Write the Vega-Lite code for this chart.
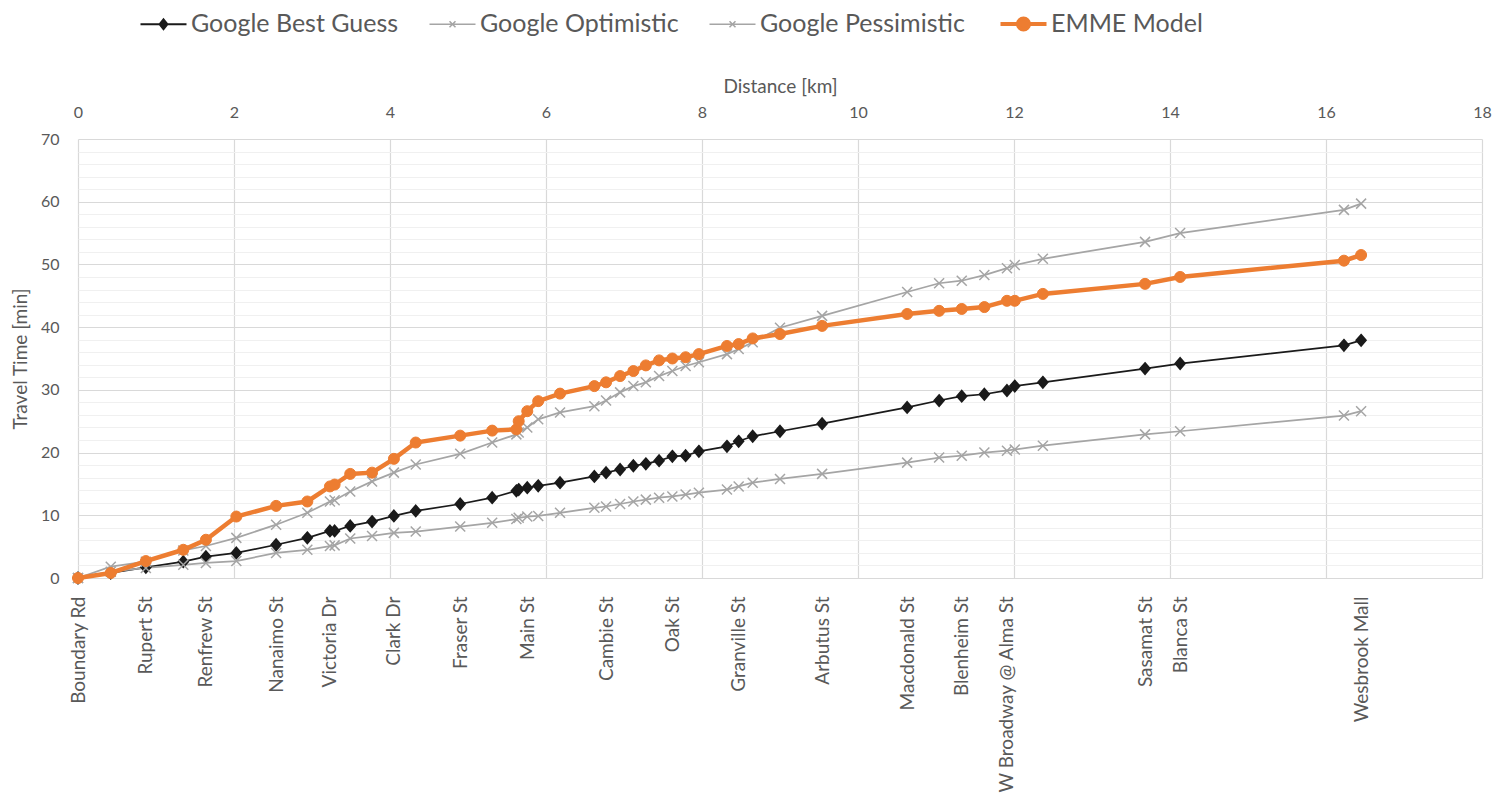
{
  "$schema": "https://vega.github.io/schema/vega-lite/v6.json",
  "autosize": {"type": "none"},
  "padding": {"left": 78, "top": 139, "right": 27, "bottom": 232},
  "width": 1404,
  "height": 439,
  "config": {
    "view": {"stroke": null},
    "font": "Lato",
    "axis": {"labelFont": "Lato", "titleFont": "Lato", "labelColor": "#595959", "titleColor": "#595959", "titleFontWeight": "normal"},
    "legend": {"labelFont": "Lato"}
  },
  "data": {
    "values": [
      {"km": 0, "best": 0, "opt": 0, "pess": 0, "emme": 0},
      {"km": 0.42, "best": 0.8, "opt": 1.0, "pess": 1.8, "emme": 0.8},
      {"km": 0.87, "best": 1.7, "opt": 1.6, "pess": 2.6, "emme": 2.7},
      {"km": 1.35, "best": 2.6, "opt": 2.1, "pess": 4.4, "emme": 4.5},
      {"km": 1.64, "best": 3.4, "opt": 2.4, "pess": 5.1, "emme": 6.1},
      {"km": 2.03, "best": 4.0, "opt": 2.7, "pess": 6.4, "emme": 9.8},
      {"km": 2.54, "best": 5.3, "opt": 4.0, "pess": 8.5, "emme": 11.5},
      {"km": 2.94, "best": 6.4, "opt": 4.5, "pess": 10.4, "emme": 12.2},
      {"km": 3.23, "best": 7.5, "opt": 5.1, "pess": 12.2, "emme": 14.6},
      {"km": 3.29, "best": 7.5, "opt": 5.2, "pess": 12.4, "emme": 14.9},
      {"km": 3.49, "best": 8.3, "opt": 6.3, "pess": 13.8, "emme": 16.6},
      {"km": 3.77, "best": 9.0, "opt": 6.7, "pess": 15.4, "emme": 16.8},
      {"km": 4.05, "best": 9.9, "opt": 7.2, "pess": 16.8, "emme": 19.0},
      {"km": 4.33, "best": 10.7, "opt": 7.4, "pess": 18.1, "emme": 21.6},
      {"km": 4.9, "best": 11.8, "opt": 8.2, "pess": 19.8, "emme": 22.7},
      {"km": 5.31, "best": 12.8, "opt": 8.8, "pess": 21.6, "emme": 23.5},
      {"km": 5.62, "best": 13.9, "opt": 9.4, "pess": 22.9, "emme": 23.7},
      {"km": 5.65, "best": 14.1, "opt": 9.6, "pess": 23.2, "emme": 25.0},
      {"km": 5.76, "best": 14.4, "opt": 9.8, "pess": 24.0, "emme": 26.6},
      {"km": 5.9, "best": 14.7, "opt": 9.9, "pess": 25.3, "emme": 28.2},
      {"km": 6.18, "best": 15.2, "opt": 10.4, "pess": 26.4, "emme": 29.4},
      {"km": 6.62, "best": 16.2, "opt": 11.2, "pess": 27.4, "emme": 30.6},
      {"km": 6.77, "best": 16.8, "opt": 11.4, "pess": 28.3, "emme": 31.2},
      {"km": 6.95, "best": 17.3, "opt": 11.8, "pess": 29.6, "emme": 32.2},
      {"km": 7.12, "best": 17.9, "opt": 12.2, "pess": 30.6, "emme": 33.0},
      {"km": 7.28, "best": 18.2, "opt": 12.5, "pess": 31.2, "emme": 33.9},
      {"km": 7.45, "best": 18.7, "opt": 12.8, "pess": 32.2, "emme": 34.7},
      {"km": 7.62, "best": 19.4, "opt": 13.0, "pess": 33.0, "emme": 35.0},
      {"km": 7.79, "best": 19.5, "opt": 13.3, "pess": 33.8, "emme": 35.2},
      {"km": 7.96, "best": 20.2, "opt": 13.6, "pess": 34.4, "emme": 35.7},
      {"km": 8.32, "best": 21.0, "opt": 14.1, "pess": 35.7, "emme": 37.0},
      {"km": 8.47, "best": 21.8, "opt": 14.6, "pess": 36.5, "emme": 37.3},
      {"km": 8.65, "best": 22.6, "opt": 15.2, "pess": 37.6, "emme": 38.2},
      {"km": 9.0, "best": 23.4, "opt": 15.8, "pess": 39.9, "emme": 38.9},
      {"km": 9.54, "best": 24.6, "opt": 16.6, "pess": 41.8, "emme": 40.2},
      {"km": 10.63, "best": 27.2, "opt": 18.4, "pess": 45.6, "emme": 42.1},
      {"km": 11.04, "best": 28.3, "opt": 19.2, "pess": 47.0, "emme": 42.6},
      {"km": 11.33, "best": 29.0, "opt": 19.5, "pess": 47.4, "emme": 42.9},
      {"km": 11.62, "best": 29.3, "opt": 20.0, "pess": 48.3, "emme": 43.2},
      {"km": 11.91, "best": 29.9, "opt": 20.3, "pess": 49.4, "emme": 44.2},
      {"km": 12.01, "best": 30.6, "opt": 20.5, "pess": 49.9, "emme": 44.2},
      {"km": 12.37, "best": 31.2, "opt": 21.1, "pess": 50.9, "emme": 45.3},
      {"km": 13.68, "best": 33.4, "opt": 22.9, "pess": 53.6, "emme": 46.9},
      {"km": 14.13, "best": 34.2, "opt": 23.4, "pess": 55.0, "emme": 48.0},
      {"km": 16.23, "best": 37.1, "opt": 25.9, "pess": 58.7, "emme": 50.6},
      {"km": 16.45, "best": 37.9, "opt": 26.6, "pess": 59.7, "emme": 51.5}
    ]
  },
  "transform": [{"fold": ["best", "opt", "pess", "emme"], "as": ["series", "t"]}],
  "encoding": {
    "y": {
      "field": "t", "type": "quantitative",
      "scale": {"domain": [0, 70], "nice": false},
      "axis": {
        "title": "Travel Time [min]", "titleFontSize": 19, "titlePadding": 10,
        "values": [0,2,4,6,8,10,12,14,16,18,20,22,24,26,28,30,32,34,36,38,40,42,44,46,48,50,52,54,56,58,60,62,64,66,68,70],
        "labelExpr": "datum.value % 10 == 0 ? datum.label : ''",
        "labelFontSize": 16, "labelPadding": 19, "ticks": false, "tickSize": 0, "domain": false,
        "grid": true,
        "gridColor": {"condition": {"test": "datum.value % 10 == 0", "value": "#D9D9D9"}, "value": "#F0F0F0"},
        "gridWidth": 1.2
      }
    }
  },
  "resolve": {"axis": {"x": "independent"}},
  "layer": [
    {
      "transform": [{"filter": "datum.series != 'emme'"}],
      "mark": {"type": "line", "strokeWidth": 1.75},
      "encoding": {
        "x": {
          "field": "km", "type": "quantitative",
          "scale": {"domain": [0, 18], "nice": false},
          "axis": {
            "orient": "top", "title": "Distance [km]", "titleFontSize": 19, "titlePadding": 8,
            "values": [0,2,4,6,8,10,12,14,16,18], "labelFontSize": 16, "labelPadding": 19,
            "labelFlush": false, "ticks": false, "tickSize": 0, "domain": false,
            "grid": true, "gridColor": "#D9D9D9", "gridWidth": 1.2
          }
        },
        "stroke": {
          "field": "series", "type": "nominal",
          "scale": {"domain": ["best", "opt", "pess", "emme"], "range": ["#1a1a1a", "#A5A5A5", "#A5A5A5", "#ED7D31"]},
          "legend": {
            "orient": "none", "legendX": 73, "legendY": -128, "direction": "horizontal", "padding": 0,
            "title": null, "labelFontSize": 25, "labelColor": "#595959", "labelOffset": 15, "columnPadding": 27,
            "symbolSize": 2116, "labelLimit": 400,
            "labelExpr": "datum.value == 'best' ? 'Google Best Guess' : datum.value == 'opt' ? 'Google Optimistic' : datum.value == 'pess' ? 'Google Pessimistic' : 'EMME Model'",
            "encode": {
              "symbols": {
                "update": {
                  "shape": {"signal": "datum.value == 'best' ? 'M-1,0L1,0M0,-0.21L0.17,0L0,0.21L-0.17,0Z' : datum.value == 'emme' ? 'M-1,0L1,0M-0.24,0A0.24,0.24 0 1,0 0.24,0A0.24,0.24 0 1,0 -0.24,0Z' : 'M-1,0L1,0M-0.13,-0.13L0.13,0.13M-0.13,0.13L0.13,-0.13'"},
                  "fill": {"signal": "scale('stroke', datum.value)"},
                  "stroke": {"signal": "scale('stroke', datum.value)"},
                  "strokeWidth": {"signal": "datum.value == 'emme' ? 4 : datum.value == 'best' ? 2 : 1.5"},
                  "opacity": {"value": 1}
                }
              }
            }
          }
        }
      }
    },
    {
      "transform": [{"filter": "datum.series != 'emme'"}],
      "mark": {"type": "point", "filled": true, "opacity": 1, "strokeWidth": 1.5},
      "encoding": {
        "x": {"field": "km", "type": "quantitative", "axis": null},
        "shape": {
          "field": "series", "type": "nominal", "legend": null,
          "scale": {"domain": ["best", "opt", "pess"], "range": ["M0,-1.15L1,0L0,1.15L-1,0Z", "M-1,-1L1,1M-1,1L1,-1", "M-1,-1L1,1M-1,1L1,-1"]}
        },
        "size": {"value": 100},
        "fill": {"field": "series", "type": "nominal", "legend": null, "scale": {"domain": ["best", "opt", "pess"], "range": ["#1a1a1a", "#A5A5A5", "#A5A5A5"]}},
        "stroke": {"field": "series", "type": "nominal"}
      }
    },
    {
      "transform": [{"filter": "datum.series == 'emme'"}],
      "mark": {"type": "line", "strokeWidth": 4.5},
      "encoding": {
        "x": {
          "field": "km", "type": "quantitative",
          "axis": {
            "orient": "bottom", "title": null,
            "values": [0, 0.87, 1.64, 2.54, 3.23, 4.05, 4.9, 5.76, 6.77, 7.62, 8.47, 9.54, 10.63, 11.33, 11.91, 13.68, 14.13, 16.45],
            "labelExpr": "['Boundary Rd','Rupert St','Renfrew St','Nanaimo St','Victoria Dr','Clark Dr','Fraser St','Main St','Cambie St','Oak St','Granville St','Arbutus St','Macdonald St','Blenheim St','W Broadway @ Alma St','Sasamat St','Blanca St','Wesbrook Mall'][indexof([0, 0.87, 1.64, 2.54, 3.23, 4.05, 4.9, 5.76, 6.77, 7.62, 8.47, 9.54, 10.63, 11.33, 11.91, 13.68, 14.13, 16.45], datum.value)]",
            "labelAngle": -90, "labelFontSize": 19, "labelPadding": 18, "labelLimit": 400,
            "labelOverlap": false, "labelFlush": false, "labelBound": false,
            "ticks": false, "tickSize": 0, "domain": false, "grid": false
          }
        },
        "stroke": {"field": "series", "type": "nominal"}
      }
    },
    {
      "transform": [{"filter": "datum.series == 'emme'"}],
      "mark": {"type": "point", "shape": "circle", "filled": true, "opacity": 1, "size": 121, "fill": "#ED7D31", "stroke": "#ED7D31", "strokeWidth": 1},
      "encoding": {
        "x": {"field": "km", "type": "quantitative", "axis": null}
      }
    }
  ]
}
